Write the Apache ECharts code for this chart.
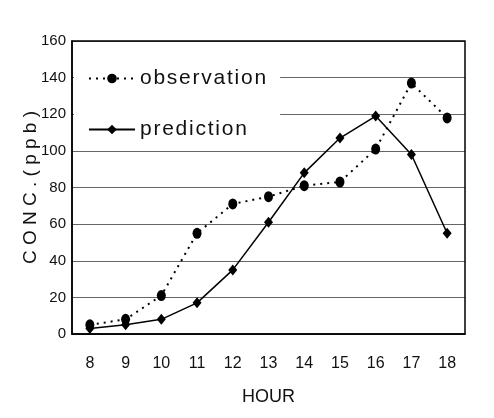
<!DOCTYPE html>
<html>
<head>
<meta charset="utf-8">
<script src="https://cdn.jsdelivr.net/npm/echarts@6/dist/echarts.min.js"></script>
<style>
  html, body { margin: 0; padding: 0; background: #fff; }
  #main { width: 494px; height: 418px; }
</style>
</head>
<body>
<div id="main"></div>
<script>
// hours on x axis
var hours = ['8', '9', '10', '11', '12', '13', '14', '15', '16', '17', '18'];
// measured concentration (ppb)
var observation = [5, 8, 21, 55, 71, 75, 81, 83, 101, 137, 118];
// model prediction (ppb)
var prediction = [3, 5, 8, 17, 35, 61, 88, 107, 119, 98, 55];

// the scanned figure uses letter-spaced text, fake it with hair spaces
function spaced(s){
    return s.split('').join('\u200a');
}

var chart = echarts.init(document.getElementById('main'));

var option = {
    backgroundColor: '#fff',
    animation: false,
    grid: {
        left: 72,
        right: 29,
        top: 41,
        bottom: 84
    },
    legend: {
        left: 74,
        top: 60,
        orient: 'vertical',
        itemGap: 30,
        itemWidth: 46,
        itemHeight: 12,
        padding: [8, 14, 6, 14],
        backgroundColor: '#fff',
        formatter: function(name){
            return spaced(name);
        },
        textStyle: {
            fontFamily: 'Liberation Sans',
            fontSize: 21,
            color: '#111'
        },
        data: ['observation', 'prediction']
    },
    xAxis: {
        type: 'category',
        data: hours,
        boundaryGap: true,
        name: 'HOUR',
        nameLocation: 'middle',
        nameGap: 54,
        nameTextStyle: {
            fontFamily: 'Liberation Sans',
            fontSize: 18,
            color: '#111'
        },
        axisLine: { lineStyle: { color: '#000', width: 1.5 } },
        axisTick: { show: false },
        axisLabel: {
            margin: 22,
            fontFamily: 'Liberation Sans Narrow, Liberation Sans',
            fontSize: 16,
            color: '#111'
        }
    },
    yAxis: {
        type: 'value',
        min: 0,
        max: 160,
        interval: 20,
        name: 'C O N C . ( p p b )',
        nameLocation: 'middle',
        nameGap: 32,
        nameMoveOverlap: false,
        nameTextStyle: {
            fontFamily: 'Liberation Sans',
            fontSize: 19,
            color: '#111'
        },
        axisLine: { show: true, lineStyle: { color: '#000', width: 1.5 } },
        axisTick: { show: false },
        axisLabel: {
            margin: 6,
            fontFamily: 'Liberation Sans Narrow, Liberation Sans',
            fontSize: 15,
            color: '#111'
        },
        splitLine: { lineStyle: { color: '#666', width: 1 } }
    },
    series: [
        {
            name: 'observation',
            type: 'line',
            data: observation,
            symbol: 'circle',
            symbolSize: [9, 11],
            itemStyle: { color: '#000' },
            lineStyle: { color: '#000', width: 2, type: [2, 5] },
            z: 3
        },
        {
            name: 'prediction',
            type: 'line',
            data: prediction,
            symbol: 'diamond',
            symbolSize: [9, 11],
            itemStyle: { color: '#000' },
            lineStyle: { color: '#000', width: 1.5 },
            z: 4
        }
    ],
    graphic: [
        {
            // frame around the plot area
            type: 'rect',
            shape: { x: 72, y: 41, width: 393, height: 293 },
            style: { fill: 'none', stroke: '#000', lineWidth: 1.5 },
            z: 1
        }
    ]
};

chart.setOption(option);
</script>
</body>
</html>
